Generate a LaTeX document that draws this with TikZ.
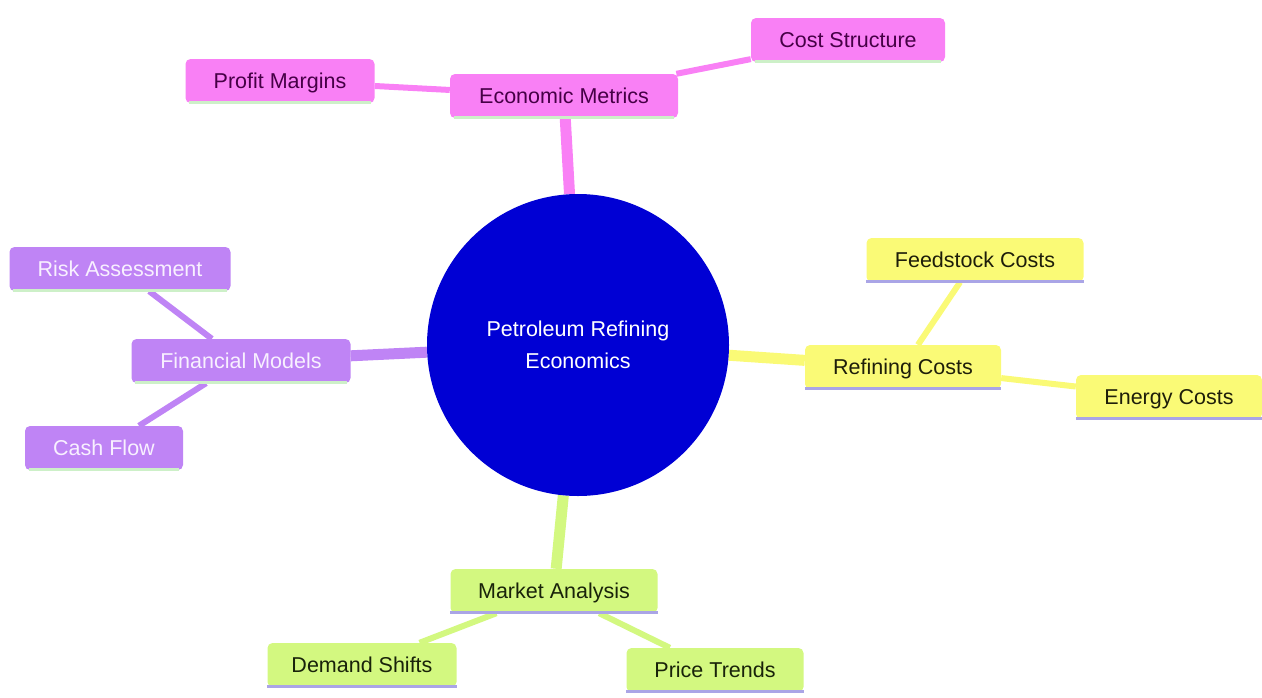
\documentclass[tikz,border=0pt]{standalone}
\usepackage{fontspec}
\setmainfont{Liberation Sans}
\pgfdeclarelayer{bg}
\pgfsetlayers{bg,main}
\definecolor{pinkf}{RGB}{249,128,245}
\definecolor{pinkt}{RGB}{70,0,70}
\definecolor{purf}{RGB}{191,132,245}
\definecolor{purt}{RGB}{248,240,255}
\definecolor{yelf}{RGB}{250,250,118}
\definecolor{yelt}{RGB}{30,30,10}
\definecolor{grnf}{RGB}{211,248,128}
\definecolor{grnt}{RGB}{25,35,10}
\definecolor{rootf}{RGB}{0,0,212}
\definecolor{lav}{RGB}{170,165,230}
\definecolor{pgreen}{RGB}{205,240,200}
\tikzset{
  box/.style={rectangle, rounded corners=5pt, inner xsep=0pt, minimum height=44pt,
    font=\fontsize{21.5}{26}\selectfont, text depth=0pt},
  pinkbox/.style={box, fill=pinkf, text=pinkt},
  purbox/.style={box, fill=purf, text=purt},
  yelbox/.style={box, fill=yelf, text=yelt},
  grnbox/.style={box, fill=grnf, text=grnt},
  rootnode/.style={circle, fill=rootf, text=white, minimum size=302pt, align=center,
    font=\fontsize{21.5}{32}\selectfont},
  thick1/.style={line width=11pt},
  thick2/.style={line width=6pt},
  uline/.style={line width=3pt},
}
\begin{document}
\begin{tikzpicture}[x=1pt,y=-1pt]
\useasboundingbox (0,0) rectangle (1262,697);
\node[rootnode] (root) at (578,345) {Petroleum Refining\\Economics};
% pink
\node[pinkbox, minimum width=228pt] (em) at (564,96) {Economic Metrics};
\node[pinkbox, minimum width=189pt] (pm) at (280,81) {Profit Margins};
\node[pinkbox, minimum width=194pt] (cs) at (848,40) {Cost Structure};
% purple
\node[purbox, minimum width=219pt] (fm) at (241,361) {Financial Models};
\node[purbox, minimum width=221pt] (ra) at (120,269) {Risk Assessment};
\node[purbox, minimum width=158pt] (cf) at (104,448) {Cash Flow};
% yellow
\node[yelbox, minimum width=196pt] (rc) at (903,367) {Refining Costs};
\node[yelbox, minimum width=217pt] (fc) at (975,260) {Feedstock Costs};
\node[yelbox, minimum width=186pt] (ec) at (1169,397) {Energy Costs};
% green
\node[grnbox, minimum width=207pt] (ma) at (554,591) {Market Analysis};
\node[grnbox, minimum width=189pt] (ds) at (362,665) {Demand Shifts};
\node[grnbox, minimum width=177pt] (pt) at (715,670) {Price Trends};
\begin{pgfonlayer}{bg}
  \draw[thick1, pinkf] (root) -- (em);
  \draw[thick2, pinkf] (em) -- (pm);
  \draw[thick2, pinkf] (em) -- (cs);
  \draw[thick1, purf] (root) -- (fm);
  \draw[thick2, purf] (fm) -- (ra);
  \draw[thick2, purf] (fm) -- (cf);
  \draw[thick1, yelf] (root) -- (rc);
  \draw[thick2, yelf] (rc) -- (fc);
  \draw[thick2, yelf] (rc) -- (ec);
  \draw[thick1, grnf] (root) -- (ma);
  \draw[thick2, grnf] (ma) -- (ds);
  \draw[thick2, grnf] (ma) -- (pt);
\end{pgfonlayer}
\foreach \n in {rc,fc,ec,ma,ds,pt}
  \draw[uline, lav] ([yshift=1pt]\n.south west) -- ([yshift=1pt]\n.south east);
\foreach \n in {em,pm,cs,fm,ra,cf}
  \draw[uline, pgreen] ([xshift=4pt,yshift=1pt]\n.south west) -- ([xshift=-4pt,yshift=1pt]\n.south east);
\end{tikzpicture}
\end{document}
